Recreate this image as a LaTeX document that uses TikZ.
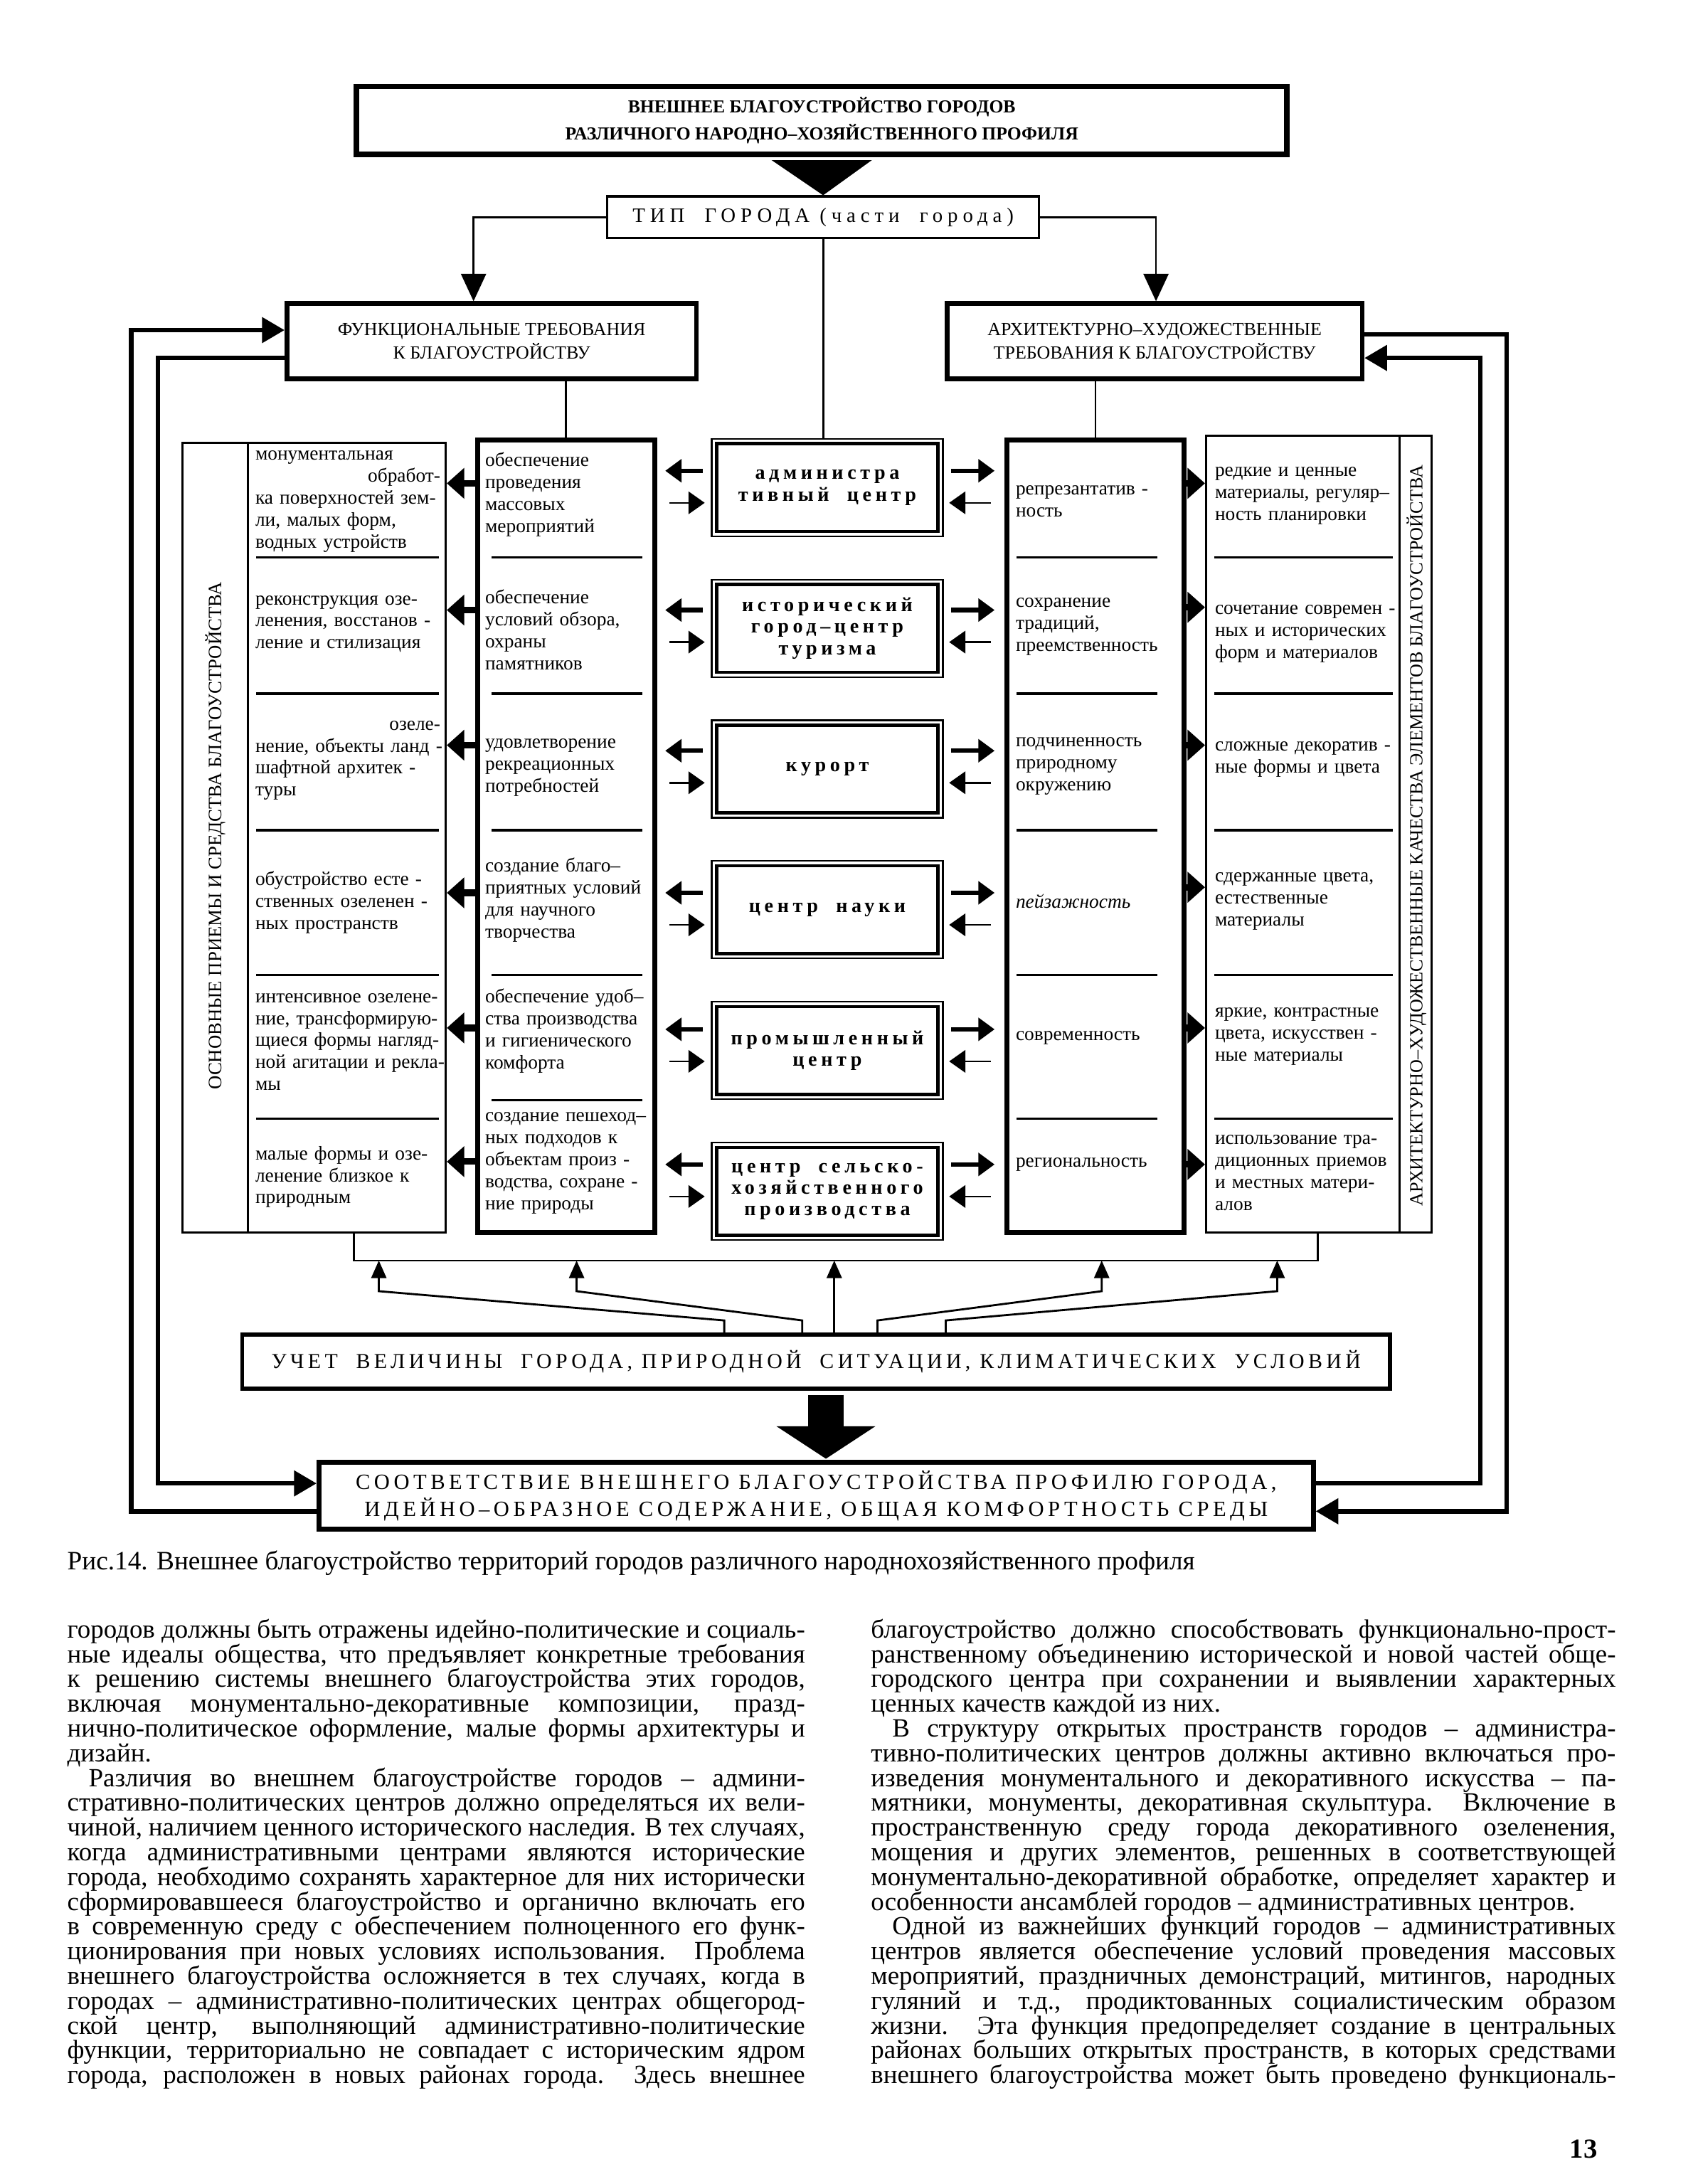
\documentclass[tikz,border=0pt]{standalone}
\usepackage{fontspec}
\setmainfont{Liberation Serif}
\newfontfamily\rozstaw[LetterSpace=20]{Liberation Serif}
\newfontfamily\rozstawm[LetterSpace=18]{Liberation Serif}
\newfontfamily\rozstawt[LetterSpace=24]{Liberation Serif}
\usetikzlibrary{positioning}
\usetikzlibrary{arrows.meta}

\newcommand{\pxu}{0.019573cm}
\newcommand{\bezprzen}{\hyphenpenalty=10000 \exhyphenpenalty=10000 \tolerance=10000 \hbadness=10000 }
\newcommand{\wprawo}[1]{\makebox[2.6cm][r]{#1}}

\tikzset{
  ramka/.style={draw, line width=1.9pt, inner sep=0pt, align=center},
  ramkac/.style={draw, line width=0.9pt, inner sep=0pt, align=center},
  centrum/.style={draw, line width=0.6pt, inner sep=0pt, align=center,
    minimum width=166*\pxu, minimum height=70*\pxu,
    font=\rozstaw\bfseries\fontsize{8}{8.6}\selectfont},
  komorka/.style={anchor=west, inner sep=0pt, align=left, text width=#1,
    font=\fontsize{7.8}{8.8}\selectfont},
  pion/.style={rotate=90, inner sep=0pt},
  kreska/.style={line width=0.9pt},
  linia/.style={line width=0.8pt},
  wstrz/.style={-{Triangle[length=11pt,width=10pt]}, line width=0.8pt},
  grot/.style={-{Triangle[length=7pt,width=12pt]}, line width=2.6pt},
  grots/.style={-{Triangle[length=6.5pt,width=9pt]}, line width=1.8pt},
  grotc/.style={-{Triangle[length=6.5pt,width=9pt]}, line width=0.7pt},
  petla/.style={-{Triangle[length=9pt,width=10pt]}, line width=1.8pt},
  gora/.style={-{Triangle[length=7pt,width=6pt]}, line width=0.8pt},
  wielka/.style={-{Triangle[length=13pt,width=39pt]}, line width=14pt}
}

\begin{document}
\begin{tikzpicture}[x=\pxu, y=-\pxu, node distance=0.587cm]
  \fill[white] (0,0) rectangle (1219,1568);
  \path[use as bounding box] (0,0) rectangle (1219,1568);

  % naglowek
  \node[ramka, line width=2.2pt, minimum width=668*\pxu, minimum height=49*\pxu,
    font=\bfseries\fontsize{7.3}{10.6}\selectfont] (tytul) at (590,86.5)
    {ВНЕШНЕЕ БЛАГОУСТРОЙСТВО ГОРОДОВ\\РАЗЛИЧНОГО НАРОДНО–ХОЗЯЙСТВЕННОГО ПРОФИЛЯ};
  \node[ramkac, minimum width=310*\pxu, minimum height=30*\pxu,
    font=\rozstawt\fontsize{8.2}{9}\selectfont] (typ) at (591,156)
    {ТИП\ \ ГОРОДА (части\ \ города)};
  \node[ramka, minimum width=294*\pxu, minimum height=54*\pxu,
    font=\fontsize{7.4}{9.5}\selectfont] (funk) at (353,245)
    {ФУНКЦИОНАЛЬНЫЕ ТРЕБОВАНИЯ\\К БЛАГОУСТРОЙСТВУ};
  \node[ramka, minimum width=298*\pxu, minimum height=54*\pxu,
    font=\fontsize{7.4}{9.5}\selectfont] (arch) at (829,245)
    {АРХИТЕКТУРНО–ХУДОЖЕСТВЕННЫЕ\\ТРЕБОВАНИЯ К БЛАГОУСТРОЙСТВУ};

  % kolumny
  \node[ramkac, minimum width=189*\pxu, minimum height=567*\pxu] (kol1) at (225.5,601.5) {};
  \node[ramka, minimum width=127*\pxu, minimum height=569*\pxu] (kol2) at (406.5,600.5) {};
  \node[ramka, minimum width=127*\pxu, minimum height=569*\pxu] (kol4) at (786.5,600.5) {};
  \node[ramkac, minimum width=162*\pxu, minimum height=572*\pxu] (kol5) at (947,599) {};

  \node[centrum] (ob1) at (594,350) {администра\\тивный\ \ центр};
  \node[centrum, below=of ob1] (ob2) {исторический\\город–центр\\туризма};
  \node[centrum, below=of ob2] (ob3) {курорт};
  \node[centrum, below=of ob3] (ob4) {центр\ \ науки};
  \node[centrum, below=of ob4] (ob5) {промышленный\\центр};
  \node[centrum, below=of ob5] (ob6) {центр\ \ сельско-\\хозяйственного\\производства};
  \foreach \n in {1,...,6}
    \draw[line width=1.3pt] ([shift={(4,4)}]ob\n.north west) rectangle ([shift={(-4,-4)}]ob\n.south east);

  \draw[linia] (kol1.north -| 178,0) -- (kol1.south -| 178,0);
  \draw[linia] (kol5.north -| 1005,0) -- (kol5.south -| 1005,0);
  \foreach \y in {400,498,596,700,803} {
    \draw[kreska] (184,\y) -- (315,\y);
    \draw[kreska] (730,\y) -- (831,\y);
    \draw[kreska] (872,\y) -- (1000,\y);
  }
  \foreach \y in {400,498,596,700,790}
    \draw[kreska] (353,\y) -- (461,\y);

  \node[pion, font=\fontsize{7.6}{8}\selectfont] (napis1) at (155,600)
    {ОСНОВНЫЕ ПРИЕМЫ И СРЕДСТВА БЛАГОУСТРОЙСТВА};
  \node[pion, font=\fontsize{7.45}{8}\selectfont] (napis5) at (1017,600)
    {АРХИТЕКТУРНО–ХУДОЖЕСТВЕННЫЕ КАЧЕСТВА ЭЛЕМЕНТОВ БЛАГОУСТРОЙСТВА};

  % teksty w komorkach
  \foreach \y/\t [count=\i] in {
    360/{монументальная\\\wprawo{обработ-}\\ка поверхностей зем-\\ли, малых форм,\\водных устройств},
    448/{реконструкция озе-\\ленения, восстанов -\\ление и стилизация},
    546/{\wprawo{озеле-}\\нение, объекты ланд -\\шафтной архитек -\\туры},
    648/{обустройство есте -\\ственных озеленен -\\ных пространств},
    748/{интенсивное озелене-\\ние, трансформирую-\\щиеся формы нагляд-\\ной агитации и рекла-\\мы},
    845/{малые формы и озе-\\ленение близкое к\\природным}}
    \node[komorka=3.2cm] (a\i) at (183,\y) {\t};
  \foreach \y/\t [count=\i] in {
    355/{обеспечение\\проведения\\массовых\\мероприятий},
    452/{обеспечение\\условий обзора,\\охраны\\памятников},
    551/{удовлетворение\\рекреационных\\потребностей},
    646/{создание благо–\\приятных условий\\для научного\\творчества},
    740/{обеспечение удоб–\\ства производства\\и гигиенического\\комфорта},
    835/{создание пешеход–\\ных подходов к\\объектам произ -\\водства, сохране -\\ние природы}}
    \node[komorka=2.45cm] (f\i) at (348,\y) {\t};
  \foreach \y/\t [count=\i] in {
    360/{репрезантатив -\\ность},
    450/{сохранение\\традиций,\\преемственность},
    550/{подчиненность\\природному\\окружению},
    647/{\textit{пейзажность}},
    745/{современность},
    836/{региональность}}
    \node[komorka=2.4cm] (h\i) at (729,\y) {\t};
  \foreach \y/\t [count=\i] in {
    356/{редкие и ценные\\материалы, регуляр–\\ность планировки},
    455/{сочетание современ -\\ных и исторических\\форм и материалов},
    545/{сложные декоратив -\\ные формы и цвета},
    647/{сдержанные цвета,\\естественные\\материалы},
    744/{яркие, контрастные\\цвета, искусствен -\\ные материалы},
    842/{использование тра-\\диционных приемов\\и местных матери-\\алов}}
    \node[komorka=2.75cm] (k\i) at (872,\y) {\t};

  % polaczenia
  \fill ([shift={(-36,2)}]tytul.south) -- ([shift={(36,2)}]tytul.south) -- (typ.north) -- cycle;
  \draw[wstrz] (typ.west) -| ([shift={(-13,0)}]funk.north);
  \draw[wstrz] (typ.east) -| ([shift={(1,0)}]arch.north);
  \draw[linia] (typ.south) -- (typ.south |- ob1.north);
  \draw[linia] (kol2.north |- funk.south) -- (kol2.north);
  \draw[linia] (kol4.north |- arch.south) -- (kol4.north);

  \foreach \y in {347,438,535,641,738,834}
    \draw[grot] (kol2.west |- 0,\y) -- (kol1.east |- 0,\y);
  \foreach \y in {347,436,535,637,738,836}
    \draw[grot, shorten <=-2pt] (kol4.east |- 0,\y) -- (kol5.west |- 0,\y);
  \foreach \yu/\yd [count=\i] in {338/361,438/461,539/562,641/664,739/762,836/859} {
    \draw[grots, shorten <=3.3pt, shorten >=3.3pt] (ob\i.west |- 0,\yu) -- (kol2.east |- 0,\yu);
    \draw[grotc, shorten <=5pt, shorten >=2.5pt] (kol2.east |- 0,\yd) -- (ob\i.west |- 0,\yd);
    \draw[grots, shorten <=3pt, shorten >=4pt] (ob\i.east |- 0,\yu) -- (kol4.west |- 0,\yu);
    \draw[grotc, shorten <=5.5pt, shorten >=2.2pt] (kol4.west |- 0,\yd) -- (ob\i.east |- 0,\yd);
  }

  % dol
  \node[ramka, line width=1.6pt, minimum width=824*\pxu, minimum height=39*\pxu,
    font=\rozstawm\fontsize{8.5}{10}\selectfont] (uwzgl) at (586,977.5)
    {УЧЕТ\ \ ВЕЛИЧИНЫ\ \ ГОРОДА, ПРИРОДНОЙ\ \ СИТУАЦИИ, КЛИМАТИЧЕСКИХ\ \ УСЛОВИЙ};
  \node[ramka, minimum width=714*\pxu, minimum height=48*\pxu,
    font=\rozstawm\fontsize{8.7}{11}\selectfont] (zgodn) at (586,1074)
    {СООТВЕТСТВИЕ ВНЕШНЕГО БЛАГОУСТРОЙСТВА ПРОФИЛЮ ГОРОДА,\\ИДЕЙНО–ОБРАЗНОЕ СОДЕРЖАНИЕ, ОБЩАЯ КОМФОРТНОСТЬ СРЕДЫ};

  \coordinate (szynaL) at (254,905);
  \coordinate (szynaP) at (946,905);
  \draw[linia] (kol1.south -| szynaL) -- (szynaL) -- (szynaP) -- (kol5.south -| szynaP);
  \foreach \xa/\xb in {520/272,576/414,599/599,630/791,679/917}
    \draw[gora] (uwzgl.north -| \xa,0) -- (\xa,948) -- (\xb,927) -- (szynaL -| \xb,0);
  \draw[wielka] ([shift={(7,3)}]uwzgl.south) -- ([shift={(7,-1)}]zgodn.north);

  % petle zwrotne
  \draw[petla] ([shift={(0,11)}]zgodn.west) -- ++(-133,0) |- ([shift={(0,-8)}]funk.west);
  \draw[petla] ([shift={(0,12)}]funk.west) -- ++(-91,0) |- ([shift={(0,-9)}]zgodn.west);
  \draw[petla] ([shift={(0,-5)}]arch.east) -- ++(102,0) |- ([shift={(0,11)}]zgodn.east);
  \draw[petla] ([shift={(0,-9)}]zgodn.east) -- ++(118,0) |- ([shift={(0,12)}]arch.east);

  % podpis i tekst
  \node[anchor=west, inner sep=0pt, font=\fontsize{10.6}{12}\selectfont] (podpis) at (48,1122)
    {Рис.14. Внешнее благоустройство территорий городов различного народнохозяйственного профиля};

  \node[anchor=north west, inner sep=0pt, text width=10.37cm, align=justify,
    font=\fontsize{10.5}{9.9}\selectfont] (lewa) at (48,1162)
    {\bezprzen городов должны быть отражены идейно-политические и социаль-\linebreak
    ные идеалы общества, что предъявляет конкретные требования\linebreak
    к решению системы внешнего благоустройства этих городов,\linebreak
    включая монументально-декоративные композиции, празд-\linebreak
    нично-политическое оформление, малые формы архитектуры и\linebreak
    дизайн.\par
    \hspace*{0.3cm}Различия во внешнем благоустройстве городов – админи-\linebreak
    стративно-политических центров должно определяться их вели-\linebreak
    чиной, наличием ценного исторического наследия. В тех случаях,\linebreak
    когда административными центрами являются исторические\linebreak
    города, необходимо сохранять характерное для них исторически\linebreak
    сформировавшееся благоустройство и органично включать его\linebreak
    в современную среду с обеспечением полноценного его функ-\linebreak
    ционирования при новых условиях использования. Проблема\linebreak
    внешнего благоустройства осложняется в тех случаях, когда в\linebreak
    городах – административно-политических центрах общегород-\linebreak
    ской центр, выполняющий административно-политические\linebreak
    функции, территориально не совпадает с историческим ядром\linebreak
    города, расположен в новых районах города. Здесь внешнее\parfillskip=0pt\par};

  \node[anchor=north west, inner sep=0pt, text width=10.47cm, align=justify,
    font=\fontsize{10.5}{9.9}\selectfont] (prawa) at (625,1162)
    {\bezprzen благоустройство должно способствовать функционально-прост-\linebreak
    ранственному объединению исторической и новой частей обще-\linebreak
    городского центра при сохранении и выявлении характерных\linebreak
    ценных качеств каждой из них.\par
    \hspace*{0.3cm}В структуру открытых пространств городов – администра-\linebreak
    тивно-политических центров должны активно включаться про-\linebreak
    изведения монументального и декоративного искусства – па-\linebreak
    мятники, монументы, декоративная скульптура. Включение в\linebreak
    пространственную среду города декоративного озеленения,\linebreak
    мощения и других элементов, решенных в соответствующей\linebreak
    монументально-декоративной обработке, определяет характер и\linebreak
    особенности ансамблей городов – административных центров.\par
    \hspace*{0.3cm}Одной из важнейших функций городов – административных\linebreak
    центров является обеспечение условий проведения массовых\linebreak
    мероприятий, праздничных демонстраций, митингов, народных\linebreak
    гуляний и т.д., продиктованных социалистическим образом\linebreak
    жизни. Эта функция предопределяет создание в центральных\linebreak
    районах больших открытых пространств, в которых средствами\linebreak
    внешнего благоустройства может быть проведено функциональ-\parfillskip=0pt\par};

  \node[font=\bfseries\fontsize{11}{12}\selectfont] (strona) at (1137,1543) {13};
\end{tikzpicture}
\end{document}
